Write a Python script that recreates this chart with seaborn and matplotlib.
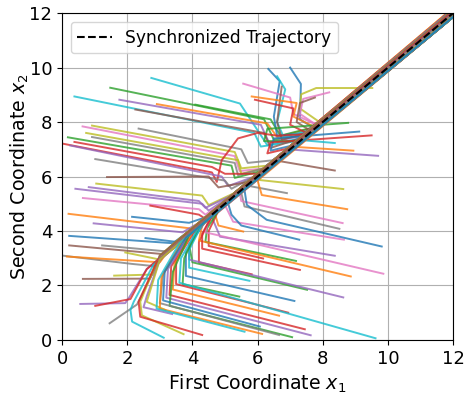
import pandas as pd
import matplotlib
matplotlib.use("Agg")
import matplotlib.pyplot as plt
import seaborn as sns

# waypoints (x1, x2) of each trajectory
top_paths = [
    [(2.74, 9.62), (5.46, 8.68), (6.0, 7.7), (6.3, 7.15), (7.3, 7.4), (12.8, 12.95)],
    [(1.48, 9.26), (6.2, 8.1), (6.5, 7.35), (7.4, 7.5), (12.8, 12.95)],
    [(0.38, 8.94), (5.9, 7.6), (6.1, 7.1), (7.2, 7.3), (12.8, 12.95)],
    [(1.76, 8.82), (6.1, 7.9), (6.35, 7.25), (7.4, 7.5), (12.8, 12.95)],
    [(2.91, 8.66), (6.3, 7.95), (6.6, 7.45), (7.6, 7.75), (12.8, 13.0)],
    [(2.25, 8.46), (6.2, 7.6), (6.4, 7.05), (7.3, 7.4), (12.8, 12.95)],
    [(4.09, 8.64), (6.4, 8.1), (6.7, 7.5), (7.7, 7.8), (12.8, 12.95)],
    [(6.33, 9.95), (6.68, 9.5), (6.5, 8.2), (6.6, 7.5), (7.5, 7.6), (12.8, 12.95)],
    [(7.0, 10.0), (7.33, 9.4), (7.3, 8.1), (7.7, 7.8), (12.8, 12.95)],
    [(6.6, 9.68), (6.85, 9.2), (6.6, 8.0), (6.8, 7.45), (7.6, 7.7), (12.8, 12.95)],
    [(5.56, 9.41), (7.0, 8.9), (7.1, 8.3), (7.8, 7.9), (12.8, 12.95)],
    [(6.74, 9.3), (6.6, 8.0), (6.75, 7.35), (7.5, 7.6), (12.8, 12.95)],
    [(9.52, 9.25), (7.8, 9.25), (7.34, 9.02), (7.3, 8.5), (7.9, 8.0), (12.8, 12.95)],
    [(8.2, 9.09), (7.4, 8.85), (7.3, 8.3), (7.8, 7.9), (12.8, 12.95)],
    [(5.82, 8.94), (7.2, 8.7), (7.1, 8.2), (7.7, 7.85), (12.8, 13.0)],
    [(7.76, 8.9), (7.3, 8.7), (7.2, 8.0), (7.6, 7.7), (12.8, 12.95)],
    [(5.92, 8.82), (7.1, 8.5), (7.0, 7.9), (7.5, 7.6), (12.8, 12.95)],
    [(8.78, 7.97), (6.3, 7.75), (6.2, 7.3), (7.2, 7.3), (12.8, 12.85)],
    [(9.12, 7.65), (6.5, 7.4), (6.4, 6.95), (7.1, 7.15), (12.8, 12.85)],
    [(9.5, 7.51), (6.4, 7.25), (6.3, 6.85), (7.0, 7.05), (12.8, 12.85)],
    [(8.37, 7.23), (7.2, 7.35), (12.8, 12.8)],
    [(8.94, 6.95), (7.0, 7.1), (12.8, 12.8)],
    [(9.7, 6.76), (6.9, 7.0), (12.8, 12.8)],
    [(8.37, 6.22), (6.5, 6.6), (12.8, 12.8)],
]
top_colors = ["tab:cyan", "tab:green", "tab:cyan", "tab:purple", "tab:orange", "tab:brown",
              "tab:green", "tab:blue", "tab:blue", "tab:cyan", "tab:pink", "tab:brown",
              "tab:olive", "tab:pink", "tab:orange", "tab:brown", "tab:red", "tab:green",
              "tab:blue", "tab:red", "tab:cyan", "tab:orange", "tab:purple", "tab:brown"]

left_paths = [
    [(0.63, 7.84), (5.3, 6.75), (5.45, 6.2), (6.2, 6.3), (12.8, 12.95)],
    [(0.92, 7.87), (5.3, 6.9), (5.5, 6.3), (6.3, 6.4), (12.8, 12.95)],
    [(2.35, 7.76), (5.5, 7.0), (5.7, 6.5), (6.5, 6.6), (12.8, 12.95)],
    [(0.18, 7.44), (5.2, 6.4), (5.3, 5.95), (6.1, 6.2), (12.8, 12.95)],
    [(0.74, 7.6), (5.4, 6.6), (5.5, 6.1), (6.2, 6.3), (12.8, 12.95)],
    [(0.92, 7.45), (5.3, 6.5), (5.4, 6.05), (6.2, 6.3), (12.8, 12.95)],
    [(0.38, 7.27), (4.6, 6.35), (5.0, 6.1), (6.0, 6.1), (12.8, 12.95)],
    [(0.05, 7.2), (4.6, 6.15), (4.75, 5.8), (4.9, 6.6), (5.4, 7.4), (6.0, 7.6), (6.6, 7.5), (7.4, 7.55), (12.8, 12.95)],
    [(0.25, 7.14), (4.9, 6.0), (5.1, 5.65), (5.9, 6.0), (12.8, 12.95)],
    [(1.02, 6.64), (5.0, 5.85), (5.2, 5.55), (5.9, 6.0), (12.8, 12.95)],
    [(1.38, 5.98), (4.5, 6.0), (4.8, 5.6), (5.7, 5.8), (12.8, 12.95)],
    [(1.05, 5.74), (4.3, 5.3), (4.5, 4.95), (5.3, 5.4), (12.8, 12.95)],
    [(0.41, 5.55), (4.3, 5.0), (4.5, 4.75), (5.2, 5.3), (12.8, 12.95)],
    [(0.82, 5.61), (4.2, 5.1), (4.4, 4.85), (5.2, 5.3), (12.8, 12.95)],
    [(0.64, 5.21), (4.2, 4.8), (4.4, 4.6), (5.0, 5.1), (12.8, 12.95)],
    [(2.71, 4.93), (4.2, 4.6), (4.4, 4.45), (4.9, 5.0), (12.8, 12.95)],
    [(0.2, 4.63), (3.9, 4.1), (4.1, 3.95), (4.6, 4.7), (12.8, 12.95)],
    [(2.15, 4.52), (3.9, 4.3), (4.4, 4.5), (12.8, 12.95)],
    [(0.97, 4.28), (3.7, 3.95), (4.2, 4.3), (12.8, 12.95)],
    [(0.22, 3.82), (3.4, 3.55), (3.9, 4.0), (12.8, 12.9)],
    [(2.56, 3.74), (3.5, 3.6), (3.9, 4.0), (12.8, 12.9)],
    [(0.22, 3.47), (3.1, 3.15), (3.6, 3.7), (12.8, 12.9)],
    [(1.23, 3.47), (3.2, 3.25), (3.6, 3.7), (12.8, 12.9)],
    [(0.05, 3.09), (2.15, 2.79), (2.9, 2.7), (3.3, 3.4), (12.8, 12.9)],
    [(0.15, 3.06), (3.0, 2.85), (3.4, 3.5), (12.8, 12.9)],
    [(1.94, 3.21), (3.0, 2.95), (3.4, 3.5), (12.8, 12.9)],
    [(1.6, 2.36), (2.8, 2.4), (3.0, 3.1), (12.8, 12.9)],
    [(0.64, 2.24), (2.7, 2.25), (3.0, 3.1), (12.8, 12.9)],
    [(0.56, 1.32), (1.94, 1.35), (2.05, 1.54), (2.6, 2.6), (12.8, 12.85)],
    [(1.02, 1.25), (2.1, 1.5), (2.6, 2.6), (12.8, 12.85)],
    [(1.46, 0.61), (2.3, 1.3), (2.8, 2.5), (3.0, 3.0), (12.8, 12.8)],
]
left_colors = ["tab:pink", "tab:olive", "tab:gray", "tab:green", "tab:olive", "tab:gray",
               "tab:red", "tab:red", "tab:purple", "tab:gray", "tab:brown", "tab:olive",
               "tab:purple", "tab:purple", "tab:pink", "tab:red", "tab:orange", "tab:blue",
               "tab:purple", "tab:blue", "tab:blue", "tab:brown", "tab:gray", "tab:gray",
               "tab:orange", "tab:olive", "tab:olive", "tab:brown", "tab:purple", "tab:red",
               "tab:gray"]

low_paths = [
    [(3.12, 0.08), (2.15, 0.67), (2.1, 1.1), (2.2, 1.4), (2.8, 2.75), (12.8, 12.7)],
    [(3.73, 0.21), (2.45, 0.9), (2.4, 1.4), (2.9, 2.85), (12.8, 12.7)],
    [(4.3, 0.18), (2.4, 0.85), (2.35, 1.4), (2.9, 2.85), (12.8, 12.7)],
    [(3.38, 0.95), (2.5, 1.2), (2.6, 1.6), (3.0, 2.95), (12.8, 12.7)],
    [(3.17, 1.1), (2.6, 1.4), (3.0, 2.95), (12.8, 12.7)],
]
low_colors = ["tab:cyan", "tab:olive", "tab:red", "tab:purple", "tab:olive"]

right_paths = [
    [(8.63, 5.54), (6.07, 5.87), (6.1, 6.0), (12.8, 12.7)],
    [(6.9, 5.39), (5.75, 5.65), (12.8, 12.7)],
    [(8.75, 4.8), (6.13, 5.32), (6.0, 5.85), (12.8, 12.65)],
    [(8.51, 4.08), (5.6, 4.9), (5.5, 5.4), (12.8, 12.65)],
    [(8.61, 4.29), (5.5, 5.1), (5.45, 5.4), (12.8, 12.65)],
    [(8.65, 3.68), (5.25, 4.34), (5.0, 4.95), (12.8, 12.65)],
    [(9.81, 3.43), (6.28, 4.41), (5.67, 4.96), (5.6, 5.5), (12.8, 12.65)],
    [(7.28, 3.68), (5.5, 4.2), (5.2, 4.6), (5.1, 5.0), (12.8, 12.65)],
    [(5.56, 3.98), (4.8, 4.2), (4.7, 4.6), (12.8, 12.65)],
    [(8.37, 3.09), (4.85, 3.79), (4.6, 4.5), (12.8, 12.65)],
    [(6.17, 2.99), (4.5, 3.45), (4.5, 4.0), (4.8, 4.75), (12.8, 12.65)],
    [(7.18, 2.9), (4.4, 3.6), (4.45, 4.1), (4.8, 4.75), (12.8, 12.65)],
    [(5.82, 2.41), (4.2, 2.85), (4.2, 3.6), (4.6, 4.55), (12.8, 12.65)],
    [(9.86, 2.43), (4.4, 3.95), (4.5, 4.45), (12.8, 12.65)],
    [(8.86, 2.33), (4.2, 3.65), (4.3, 4.2), (4.6, 4.55), (12.8, 12.65)],
    [(7.3, 2.57), (4.3, 3.35), (4.3, 3.9), (4.6, 4.55), (12.8, 12.65)],
    [(7.52, 1.84), (4.0, 2.85), (3.9, 3.5), (4.4, 4.35), (12.8, 12.65)],
    [(8.63, 1.56), (3.9, 2.95), (3.9, 3.5), (4.4, 4.35), (12.8, 12.65)],
    [(7.13, 1.43), (3.8, 2.35), (3.8, 3.2), (4.3, 4.25), (12.8, 12.65)],
    [(5.75, 2.17), (3.9, 2.65), (3.9, 3.3), (4.3, 4.25), (12.8, 12.65)],
    [(5.44, 1.59), (3.7, 2.05), (3.75, 3.0), (4.2, 4.15), (12.8, 12.65)],
    [(6.94, 1.0), (3.5, 2.05), (3.5, 2.9), (4.1, 4.05), (12.8, 12.65)],
    [(6.66, 0.89), (3.4, 1.85), (3.45, 2.8), (4.0, 3.95), (12.8, 12.65)],
    [(7.45, 0.39), (3.3, 1.65), (3.35, 2.7), (3.9, 3.85), (12.8, 12.65)],
    [(9.62, 0.06), (3.6, 2.1), (3.65, 3.0), (4.2, 4.15), (12.8, 12.65)],
    [(7.63, 0.17), (3.2, 1.55), (3.25, 2.6), (3.9, 3.85), (12.8, 12.65)],
    [(7.06, 0.1), (3.3, 1.25), (3.4, 2.5), (3.9, 3.85), (12.8, 12.65)],
    [(6.66, 0.18), (3.0, 1.35), (3.1, 2.4), (3.7, 3.65), (12.8, 12.65)],
    [(6.14, 0.22), (3.0, 1.15), (3.05, 2.3), (3.7, 3.65), (12.8, 12.65)],
    [(5.6, 0.3), (2.9, 1.15), (2.95, 2.2), (3.6, 3.55), (12.8, 12.65)],
    [(6.07, 0.49), (3.1, 1.45), (3.15, 2.5), (3.8, 3.75), (12.8, 12.65)],
]
right_colors = ["tab:olive", "tab:gray", "tab:orange", "tab:gray", "tab:pink", "tab:pink",
                "tab:blue", "tab:blue", "tab:orange", "tab:purple", "tab:red", "tab:green",
                "tab:red", "tab:pink", "tab:orange", "tab:red", "tab:green", "tab:purple",
                "tab:blue", "tab:cyan", "tab:green", "tab:red", "tab:orange", "tab:red",
                "tab:cyan", "tab:purple", "tab:green", "tab:gray", "tab:orange", "tab:cyan",
                "tab:blue"]

# synchronized trajectory x1 = x2
sync_x = [4.6, 12.8]
sync_y = [4.6, 12.8]

# build long table
rows = []
palette = {}
k = 0
for paths, colors in [(top_paths, top_colors), (left_paths, left_colors),
                      (low_paths, low_colors), (right_paths, right_colors)]:
    for path, c in zip(paths, colors):
        name = f"t{k}"
        palette[name] = c
        for i, (a, b) in enumerate(path):
            rows.append({"traj": name, "step": i, "x1": a, "x2": b})
        k += 1
df = pd.DataFrame(rows)

fig = plt.figure(figsize=(4.7, 3.98), dpi=100)
ax = fig.add_axes([0.132, 0.146, 0.832, 0.821])

sns.lineplot(data=df, x="x1", y="x2", hue="traj", units="traj", estimator=None,
             sort=False, palette=palette, legend=False, linewidth=1.4, alpha=0.8, ax=ax)
sns.lineplot(x=sync_x, y=sync_y, color="black", linestyle="--", linewidth=1.5,
             label="Synchronized Trajectory", ax=ax, zorder=5)

ax.set_xlim(0, 12)
ax.set_ylim(0, 12)
ax.set_xticks(range(0, 13, 2))
ax.set_yticks(range(0, 13, 2))
ax.tick_params(labelsize=13)
ax.set_xlabel(r"First Coordinate $x_1$", fontsize=13.7)
ax.set_ylabel(r"Second Coordinate $x_2$", fontsize=13.7, labelpad=-1)
ax.grid(True)
ax.legend(loc="upper left", fontsize=12.3)

fig.savefig("out.png", dpi=100)
